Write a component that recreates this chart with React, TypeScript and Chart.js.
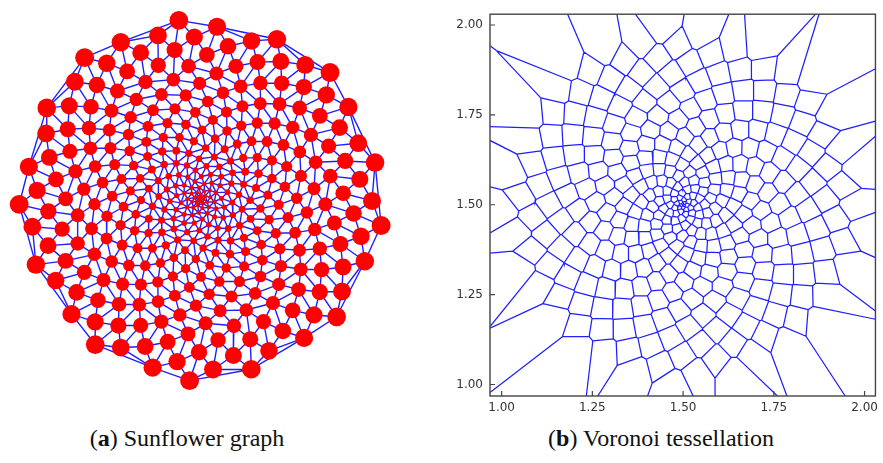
import React, { useEffect, useRef } from "react";
import { Chart, registerables } from "chart.js";

Chart.register(...registerables);

// ---- data ----
const SPIRAL_POINTS = 350;
const GOLDEN_ANGLE_DEG = 137.50776;
const LAST_POINT_ANGLE_DEG = -8.3;
const RADIUS_EXPONENT = 1;
const VORONOI_CENTER = [1.5, 1.5];
const VORONOI_RADIUS = 0.5;
const AXIS_RANGE = [0.968, 2.03];
const X_TICKS = [1.0, 1.25, 1.5, 1.75, 2.0];
const Y_TICKS = [1.0, 1.25, 1.5, 1.75, 2.0];
const CAPTION_TAGS = ["a", "b"];
const CAPTION_TEXTS = ["Sunflower graph", "Voronoi tessellation"];

type P = { x: number; y: number };

function sunflower(cx: number, cy: number, R: number): P[] {
  const pts: P[] = [];
  for (let k = 1; k <= SPIRAL_POINTS; k++) {
    const t = k / SPIRAL_POINTS;
    const r = R * Math.pow(t, RADIUS_EXPONENT);
    const th = ((LAST_POINT_ANGLE_DEG + (SPIRAL_POINTS - k) * GOLDEN_ANGLE_DEG) * Math.PI) / 180;
    pts.push({ x: cx + r * Math.cos(th), y: cy + r * Math.sin(th) });
  }
  return pts;
}

type V = { x: number; y: number; l: number };

function voronoi(sites: P[], xmin: number, xmax: number, ymin: number, ymax: number) {
  const n = sites.length;
  const edges: [P, P, number, number][] = [];
  for (let i = 0; i < n; i++) {
    const si = sites[i];
    let poly: V[] = [
      { x: xmin, y: ymin, l: -1 },
      { x: xmax, y: ymin, l: -1 },
      { x: xmax, y: ymax, l: -1 },
      { x: xmin, y: ymax, l: -1 },
    ];
    for (let j = 0; j < n; j++) {
      if (j === i) continue;
      const sj = sites[j];
      const dx = sj.x - si.x;
      const dy = sj.y - si.y;
      const c = ((si.x + sj.x) / 2) * dx + ((si.y + sj.y) / 2) * dy;
      const f = (p: V) => p.x * dx + p.y * dy - c;
      let anyOut = false;
      for (const p of poly) if (f(p) > 0) { anyOut = true; break; }
      if (!anyOut) continue;
      const out: V[] = [];
      const m = poly.length;
      for (let k = 0; k < m; k++) {
        const a = poly[k];
        const b = poly[(k + 1) % m];
        const fa = f(a);
        const fb = f(b);
        const ain = fa <= 0;
        const bin = fb <= 0;
        if (ain && bin) out.push(a);
        else if (ain && !bin) {
          out.push(a);
          const t = fa / (fa - fb);
          out.push({ x: a.x + t * (b.x - a.x), y: a.y + t * (b.y - a.y), l: j });
        } else if (!ain && bin) {
          const t = fa / (fa - fb);
          out.push({ x: a.x + t * (b.x - a.x), y: a.y + t * (b.y - a.y), l: a.l });
        }
      }
      poly = out;
      if (poly.length === 0) break;
    }
    const m = poly.length;
    for (let k = 0; k < m; k++) {
      const a = poly[k];
      const b = poly[(k + 1) % m];
      if (a.l > i) {
        const len = Math.hypot(b.x - a.x, b.y - a.y);
        if (len > 1e-9) edges.push([{ x: a.x, y: a.y }, { x: b.x, y: b.y }, i, a.l]);
      }
    }
  }
  return edges;
}

function segmentsToData(segs: [P, P][]) {
  const data: any[] = [];
  for (const [a, b] of segs) {
    data.push({ x: a.x, y: a.y });
    data.push({ x: b.x, y: b.y });
    data.push({ x: b.x, y: null });
  }
  return data;
}

const EDGE_BLUE = "#1f1fff";

function SunflowerChart() {
  const ref = useRef<HTMLCanvasElement>(null);
  useEffect(() => {
    const pts = sunflower(0, 0, 1);
    const del = voronoi(pts, -3, 3, -3, 3);
    const segs: [P, P][] = del.map((e) => [pts[e[2]], pts[e[3]]]);
    const dotR = pts.map((_, k) => 1.6 + 7.9 * ((k + 1) / SPIRAL_POINTS));
    const S = 183;
    const chart = new Chart(ref.current!, {
      type: "scatter",
      data: {
        datasets: [
          {
            data: pts,
            pointRadius: (c: any) => dotR[c.dataIndex],
            pointBackgroundColor: "#ff0000",
            pointBorderWidth: 0,
            pointHoverRadius: (c: any) => dotR[c.dataIndex],
            clip: false as any,
            order: 0,
          } as any,
          {
            data: segmentsToData(segs),
            showLine: true,
            pointRadius: 0,
            borderColor: EDGE_BLUE,
            borderWidth: 1.4,
            clip: false as any,
            order: 1,
          } as any,
        ],
      },
      options: {
        animation: false,
        responsive: false,
        maintainAspectRatio: false,
        events: [],
        layout: { padding: 0, autoPadding: false },
        plugins: { legend: { display: false }, tooltip: { enabled: false } },
        scales: {
          x: { type: "linear", display: false, min: -200 / S, max: 200 / S },
          y: { type: "linear", display: false, min: -201 / S, max: 199 / S },
        },
      },
    });
    return () => chart.destroy();
  }, []);
  return (
    <canvas
      ref={ref}
      width={400}
      height={400}
      style={{ position: "absolute", left: 0, top: 0, width: 400, height: 400 }}
    />
  );
}

function VoronoiChart() {
  const ref = useRef<HTMLCanvasElement>(null);
  useEffect(() => {
    const sites = sunflower(VORONOI_CENTER[0], VORONOI_CENTER[1], VORONOI_RADIUS);
    const ed = voronoi(sites, AXIS_RANGE[0], AXIS_RANGE[1], AXIS_RANGE[0], AXIS_RANGE[1]);
    const segs: [P, P][] = ed.map((e) => [e[0], e[1]]);
    const frame = {
      id: "frame",
      afterDraw(c: any) {
        const { ctx, chartArea } = c;
        const { left, top, right, bottom } = chartArea;
        ctx.save();
        ctx.strokeStyle = "#444";
        ctx.lineWidth = 1.4;
        ctx.strokeRect(left, top, right - left, bottom - top);
        ctx.lineWidth = 1.2;
        ctx.beginPath();
        for (const v of Y_TICKS) {
          const y = c.scales.y.getPixelForValue(v);
          ctx.moveTo(left, y);
          ctx.lineTo(left + 5, y);
        }
        for (const v of X_TICKS) {
          const x = c.scales.x.getPixelForValue(v);
          ctx.moveTo(x, bottom);
          ctx.lineTo(x, bottom - 5);
        }
        ctx.stroke();
        ctx.restore();
      },
    };
    const tickFont = { family: "'DejaVu Sans', sans-serif", size: 12 };
    const chart = new Chart(ref.current!, {
      type: "scatter",
      data: {
        datasets: [
          {
            data: segmentsToData(segs),
            showLine: true,
            pointRadius: 0,
            borderColor: EDGE_BLUE,
            borderWidth: 1.25,
          } as any,
        ],
      },
      options: {
        animation: false,
        responsive: false,
        maintainAspectRatio: false,
        events: [],
        layout: { padding: { top: 6, right: 3, left: 0, bottom: 0 }, autoPadding: false },
        plugins: { legend: { display: false }, tooltip: { enabled: false } },
        scales: {
          x: {
            type: "linear",
            min: AXIS_RANGE[0],
            max: AXIS_RANGE[1],
            afterBuildTicks: (s: any) => {
              s.ticks = X_TICKS.map((v) => ({ value: v }));
            },
            afterFit: (s: any) => {
              s.height = 24;
            },
            ticks: {
              callback: (v: any) => Number(v).toFixed(2),
              font: tickFont,
              color: "#333",
              padding: 5,
              maxRotation: 0,
              autoSkip: false,
            },
            grid: { drawOnChartArea: false, drawTicks: false },
            border: { display: false },
          },
          y: {
            type: "linear",
            min: AXIS_RANGE[0],
            max: AXIS_RANGE[1],
            afterBuildTicks: (s: any) => {
              s.ticks = Y_TICKS.map((v) => ({ value: v }));
            },
            afterFit: (s: any) => {
              s.width = 50;
            },
            ticks: {
              callback: (v: any) => Number(v).toFixed(2),
              font: tickFont,
              color: "#333",
              padding: 7,
              autoSkip: false,
            },
            grid: { drawOnChartArea: false, drawTicks: false },
            border: { display: false },
          },
        },
      },
      plugins: [frame],
    });
    return () => chart.destroy();
  }, []);
  return (
    <canvas
      ref={ref}
      width={443}
      height={420}
      style={{ position: "absolute", left: 440, top: 0, width: 443, height: 420 }}
    />
  );
}

export default function App() {
  const captionCenters = [187, 661];
  return (
    <div
      style={{
        position: "fixed",
        left: 0,
        top: 0,
        width: 883,
        height: 463,
        background: "#fff",
        overflow: "hidden",
      }}
    >
      <SunflowerChart />
      <VoronoiChart />
      {CAPTION_TAGS.map((tag, i) => (
        <div
          key={tag}
          style={{
            position: "absolute",
            left: captionCenters[i] - 200,
            width: 400,
            top: 425,
            textAlign: "center",
            fontFamily: "'Liberation Serif', serif",
            fontSize: 24,
            color: "#111",
            whiteSpace: "nowrap",
          }}
        >
          (<b>{tag}</b>) {CAPTION_TEXTS[i]}
        </div>
      ))}
    </div>
  );
}
